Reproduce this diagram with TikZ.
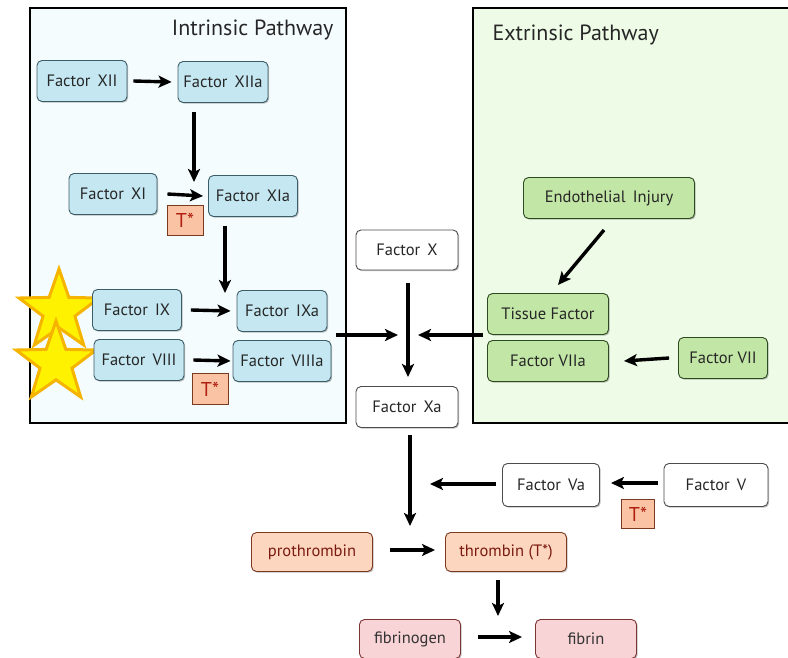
\documentclass[tikz,border=0pt]{standalone}
\usepackage{fontspec}
\setmainfont{PT Sans}
\usetikzlibrary{arrows.meta,shapes.geometric,shadows}
\definecolor{intrbg}{HTML}{F5FCFE}
\definecolor{extrbg}{HTML}{EEFBE6}
\definecolor{bluefill}{HTML}{C4E7F1}
\definecolor{blueline}{HTML}{3C5C66}
\definecolor{greenfill}{HTML}{C2E6A6}
\definecolor{greenline}{HTML}{2E4A22}
\definecolor{orfill}{HTML}{FDD6BF}
\definecolor{orline}{HTML}{7A3A22}
\definecolor{ortext}{HTML}{7A1A10}
\definecolor{tfill}{HTML}{F9C3A4}
\definecolor{ttext}{HTML}{B02010}
\definecolor{pkfill}{HTML}{F8D4D7}
\definecolor{pkline}{HTML}{7A3434}
\definecolor{staryel}{HTML}{FFF200}
\definecolor{starorg}{HTML}{F5B400}
\tikzset{
  box/.style={rounded corners=5pt, line width=0.9pt, minimum height=41pt, inner sep=2pt, font=\fontsize{16.5}{18}\selectfont, text=black!85,
    drop shadow={shadow xshift=1.2pt, shadow yshift=-1.2pt, opacity=0.25, fill=black}},
  bluebox/.style={box, fill=bluefill, draw=blueline},
  greenbox/.style={box, fill=greenfill, draw=greenline},
  whitebox/.style={box, fill=white, draw=black!70},
  orbox/.style={box, fill=orfill, draw=orline, text=ortext, minimum height=39pt},
  pkbox/.style={box, fill=pkfill, draw=pkline, text=black!80, minimum height=39pt},
  tbox/.style={fill=tfill, draw=orline, line width=0.9pt, text=ttext, inner sep=0pt, font=\fontsize{20}{22}\selectfont},
  arr/.style={line width=3.4pt, -{Stealth[length=13pt,width=12pt,inset=3pt]}},
  pathbox/.style={line width=2pt, draw=black},
  yellowstar/.style={star, star points=5, star point ratio=2.5, minimum size=84pt, fill=staryel, draw=starorg, line width=3pt, inner sep=0pt},
  ttl/.style={font=\fontsize{22}{24}\selectfont, text=black!85}
}
\begin{document}
\begin{tikzpicture}[x=1pt,y=-1pt]
\useasboundingbox[fill=white] (0,0) rectangle (788,658);
% pathway boxes
\draw[pathbox, fill=intrbg] (30,8) rectangle (346,423);
\draw[pathbox, fill=extrbg] (473,8) rectangle (800,423);
\node[ttl, anchor=east] (intitle) at (337,30) {Intrinsic Pathway};
\node[ttl, anchor=west] (extitle) at (489,35) {Extrinsic Pathway};

% stars
\node[yellowstar] (star1) at (59,311) {};
\node[yellowstar] (star2) at (56,363) {};

% intrinsic nodes
\node[bluebox, minimum width=90pt] (f12) at (82,81) {Factor\, XII};
\node[bluebox, minimum width=90pt] (f12a) at (223,82) {Factor\, XIIa};
\node[bluebox, minimum width=88pt] (f11) at (113,194) {Factor\, XI};
\node[bluebox, minimum width=89pt] (f11a) at (253,196) {Factor\, XIa};
\node[tbox, minimum width=36pt, minimum height=30pt] (t1) at (185,220) {T*};
\node[bluebox, minimum width=89pt] (f9) at (137,310) {Factor\, IX};
\node[bluebox, minimum width=90pt] (f9a) at (282,311) {Factor\, IXa};
\node[bluebox, minimum width=90pt] (f8) at (139,360) {Factor\, VIII};
\node[bluebox, minimum width=98pt] (f8a) at (282,361) {Factor\, VIIIa};
\node[tbox, minimum width=36pt, minimum height=31pt] (t2) at (210,389) {T*};

% middle
\node[whitebox, minimum width=102pt, minimum height=40pt] (fx) at (407,250) {Factor\, X};
\node[whitebox, minimum width=102pt, minimum height=41pt] (fxa) at (407,407) {Factor\, Xa};

% extrinsic
\node[greenbox, minimum width=171pt] (endo) at (609,198) {Endothelial\, Injury};
\node[greenbox, minimum width=121pt] (tf) at (548,314) {Tissue Factor};
\node[greenbox, minimum width=121pt] (f7a) at (548,361) {Factor VIIa};
\node[greenbox, minimum width=89pt] (f7) at (723,358) {Factor VII};

% bottom
\node[whitebox, minimum width=97pt, minimum height=43pt] (f5a) at (551,485) {Factor\, Va};
\node[whitebox, minimum width=104pt, minimum height=43pt] (f5) at (716,485) {Factor\, V};
\node[tbox, minimum width=33pt, minimum height=29pt] (t3) at (638,514) {T*};
\node[orbox, minimum width=121pt] (pro) at (312,552) {prothrombin};
\node[orbox, minimum width=121pt] (thr) at (506,552) {thrombin (T*)};
\node[pkbox, minimum width=101pt] (fgn) at (410,639) {fibrinogen};
\node[pkbox, minimum width=101pt] (fbn) at (586,639) {fibrin};

% junction coordinates
\coordinate (jl) at (398,335);
\coordinate (jr) at (418,335);
\coordinate (jin) at (336,335);
\coordinate (jex) at (483,335);
\coordinate (jva) at (430,484);
\coordinate (jdown) at (410,526);
\coordinate (jd1) at (194,182);
\coordinate (jd2) at (225,293);
\coordinate (xs) at (408,283);
\coordinate (xe) at (408,377);
\coordinate (xas) at (410,435);
\coordinate (ens) at (604,230);
\coordinate (ene) at (558,285);
\coordinate (ths) at (498,580);
\coordinate (the) at (498,616);

% arrows intrinsic
\draw[arr] ([xshift=6pt]f12.east) -- ([xshift=-6pt]f12a.west);
\draw[arr] (194,112) -- (jd1);
\draw[arr] ([xshift=10pt]f11.east) -- ([xshift=-5pt]f11a.west);
\draw[arr] (225,226) -- (jd2);
\draw[arr] ([xshift=9pt]f9.east) -- ([xshift=-6pt]f9a.west);
\draw[arr] ([xshift=9pt]f8.east) -- ([xshift=-2pt]f8a.west);
% middle arrows
\draw[arr] (jin) -- (jl);
\draw[arr] (jex) -- (jr);
\draw[arr] (xs) -- (xe);
\draw[arr] (xas) -- (jdown);
% extrinsic arrows
\draw[arr] (ens) -- (ene);
\draw[arr] ([xshift=-9pt]f7.west) -- ([xshift=15pt]f7a.east);
% bottom arrows
\draw[arr] ([xshift=-6pt,yshift=2pt]f5.west) -- ([xshift=11pt,yshift=2pt]f5a.east);
\draw[arr] ([xshift=-6pt,yshift=1pt]f5a.west) -- (jva);
\draw[arr] ([xshift=17pt,yshift=2pt]pro.east) -- ([xshift=-10pt,yshift=2pt]thr.west);
\draw[arr] (ths) -- (the);
\draw[arr] ([xshift=17pt,yshift=2pt]fgn.east) -- ([xshift=-13pt,yshift=2pt]fbn.west);
\end{tikzpicture}
\end{document}
